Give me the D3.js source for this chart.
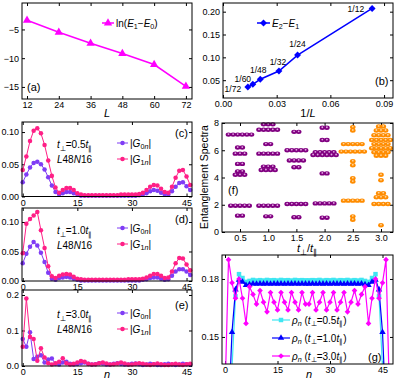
<!DOCTYPE html>
<html>
<head>
<meta charset="utf-8">
<script src="https://cdn.jsdelivr.net/npm/d3@7"></script>
<style>
  body { margin: 0; background: #fff; }
</style>
</head>
<body>
<script>
// (a) ln of the lowest gap vs chain length
var chainL = [12, 24, 36, 48, 60, 72];
var lnGap10 = [-3.4, -5.5, -7.4, -9.2, -11.1, -14.9];

// (b) second gap vs 1/L
var invL = [1/12, 1/24, 1/32, 1/48, 1/60, 1/72];
var invLNames = ["1/12", "1/24", "1/32", "1/48", "1/60", "1/72"];
var gap21 = [0.207, 0.105, 0.070, 0.052, 0.041, 0.035];

// (c)-(e) |G0n| and |G1n|, n = 0..46
var g0c = [0.022, 0.034, 0.045, 0.052, 0.054, 0.050, 0.042, 0.030, 0.017, 0.007,
           0.003, 0.005, 0.007, 0.007, 0.005, 0.003, 0.001, 0.001, 0.001, 0.001,
           0.001, 0.001, 0.001, 0.001, 0.001, 0.001, 0.001, 0.001, 0.001, 0.001,
           0.001, 0.001, 0.002, 0.003, 0.005, 0.008, 0.010, 0.009, 0.006, 0.003,
           0.003, 0.008, 0.015, 0.021, 0.022, 0.016, 0.010];
var g1c = [0.041, 0.062, 0.086, 0.102, 0.106, 0.098, 0.080, 0.056, 0.032, 0.014,
           0.006, 0.010, 0.013, 0.013, 0.010, 0.005, 0.003, 0.002, 0.002, 0.002,
           0.002, 0.002, 0.002, 0.002, 0.002, 0.002, 0.002, 0.003, 0.003, 0.003,
           0.003, 0.003, 0.004, 0.006, 0.010, 0.015, 0.018, 0.017, 0.012, 0.007,
           0.006, 0.015, 0.029, 0.040, 0.041, 0.031, 0.018];
var g0d = [0.030, 0.046, 0.058, 0.066, 0.060, 0.048, 0.032, 0.014, 0.004, 0.002,
           0.005, 0.006, 0.007, 0.006, 0.004, 0.002, 0.001, 0.001, 0.001, 0.001,
           0.001, 0.001, 0.001, 0.001, 0.001, 0.001, 0.001, 0.001, 0.001, 0.001,
           0.001, 0.001, 0.001, 0.002, 0.003, 0.005, 0.006, 0.006, 0.004, 0.002,
           0.003, 0.009, 0.016, 0.020, 0.020, 0.016, 0.010];
var g1d = [0.047, 0.097, 0.105, 0.111, 0.117, 0.086, 0.056, 0.025, 0.008, 0.005,
           0.009, 0.011, 0.012, 0.011, 0.007, 0.004, 0.003, 0.002, 0.002, 0.002,
           0.002, 0.002, 0.002, 0.002, 0.002, 0.002, 0.002, 0.002, 0.002, 0.003,
           0.003, 0.003, 0.003, 0.004, 0.006, 0.009, 0.012, 0.012, 0.009, 0.005,
           0.006, 0.016, 0.030, 0.039, 0.038, 0.028, 0.018];
var g0e = [0.076, 0.054, 0.095, 0.020, 0.026, 0.030, 0.010, 0.018, 0.021, 0.006,
           0.004, 0.010, 0.012, 0.006, 0.004, 0.006, 0.008, 0.010, 0.006, 0.004,
           0.005, 0.008, 0.007, 0.004, 0.004, 0.006, 0.008, 0.006, 0.004, 0.004,
           0.006, 0.007, 0.005, 0.003, 0.004, 0.006, 0.005, 0.003, 0.003, 0.005,
           0.006, 0.004, 0.003, 0.004, 0.006, 0.005, 0.004];
var g1e = [0.054, 0.190, 0.082, 0.076, 0.015, 0.050, 0.024, 0.008, 0.004, 0.008,
           0.012, 0.022, 0.008, 0.004, 0.006, 0.010, 0.014, 0.012, 0.006, 0.004,
           0.005, 0.008, 0.010, 0.007, 0.004, 0.005, 0.007, 0.010, 0.007, 0.004,
           0.004, 0.006, 0.008, 0.006, 0.004, 0.003, 0.005, 0.007, 0.005, 0.003,
           0.003, 0.005, 0.006, 0.004, 0.003, 0.005, 0.006];

// (f) entanglement spectra: [level, degeneracy] per t_perp/t_par
var tRatio = [0.5, 1.0, 1.5, 2.0, 2.5, 3.0];
var esPhase = ["topo", "topo", "topo", "topo", "trivial", "trivial"];
var esLevels = [
  [[7.15, 6], [6.2, 2], [5.75, 3], [5.0, 2], [4.45, 2], [4.2, 3], [1.93, 5], [1.2, 2]],
  [[7.9, 3], [7.5, 5], [6.45, 2], [5.75, 5], [4.8, 3], [4.55, 4], [1.93, 5], [1.15, 2]],
  [[7.35, 2], [6.0, 5], [5.25, 4], [4.75, 2], [2.05, 5], [1.08, 2]],
  [[7.65, 2], [6.75, 2], [5.85, 5], [5.65, 6], [4.3, 2], [2.1, 5], [1.05, 2]],
  [[7.7, 1], [7.45, 1], [6.45, 5], [5.9, 6], [5.2, 1], [4.9, 1], [3.95, 1], [3.7, 1], [2.3, 5], [1.15, 1], [0.9, 1]],
  [[7.75, 2], [7.45, 3], [7.1, 4], [6.75, 5], [6.45, 4], [6.15, 5], [5.85, 4], [5.6, 3], [4.2, 1], [3.8, 1], [2.85, 2], [2.55, 3], [2.05, 4], [0.5, 1]]
];

// (g) density rho_n, n = 0..47
var rhoT05 = [0.100, 0.120, 0.134, 0.171, 0.1825, 0.1805, 0.1785, 0.1790, 0.1795, 0.1792,
              0.1794, 0.1792, 0.1795, 0.1793, 0.1794, 0.1792, 0.1795, 0.1793, 0.1794, 0.1792,
              0.1795, 0.1793, 0.1794, 0.1793, 0.1793, 0.1794, 0.1793, 0.1795, 0.1792, 0.1794,
              0.1793, 0.1795, 0.1792, 0.1794, 0.1793, 0.1795, 0.1792, 0.1794, 0.1792, 0.1795,
              0.1790, 0.1785, 0.1805, 0.1825, 0.171, 0.134, 0.120, 0.100];
var rhoT10 = [0.090, 0.110, 0.1525, 0.1745, 0.1795, 0.1785, 0.1768, 0.1772, 0.1776, 0.1774,
              0.1776, 0.1775, 0.1776, 0.1774, 0.1776, 0.1775, 0.1776, 0.1774, 0.1776, 0.1775,
              0.1776, 0.1774, 0.1776, 0.1775, 0.1775, 0.1776, 0.1774, 0.1776, 0.1775, 0.1776,
              0.1774, 0.1776, 0.1775, 0.1776, 0.1774, 0.1776, 0.1775, 0.1776, 0.1774, 0.1776,
              0.1772, 0.1768, 0.1785, 0.1795, 0.1745, 0.1525, 0.110, 0.090];
var rhoT30 = [0.120, 0.190, 0.178, 0.170, 0.180, 0.170, 0.157, 0.176, 0.172, 0.167,
              0.174, 0.168, 0.163, 0.173, 0.168, 0.164, 0.173, 0.168, 0.164, 0.173,
              0.168, 0.164, 0.173, 0.167, 0.167, 0.173, 0.164, 0.168, 0.173, 0.164,
              0.168, 0.173, 0.164, 0.168, 0.173, 0.163, 0.168, 0.174, 0.167, 0.172,
              0.176, 0.157, 0.170, 0.180, 0.170, 0.178, 0.190, 0.120];

var FONT = "Liberation Sans, Arial, sans-serif";
var PURPLE = "#7f3cf5", PINK = "#ff1f86", MAG = "#ff00ff", BLUE = "#0000ff", CYAN = "#3fe6f2";

var svg = d3.select("body").append("svg").attr("width", 395).attr("height", 381);
var clipN = 0;

// box = [left, right, top, bottom]
function panel(box, xd, yd, xt, yt, xf, yf, pad) {
  var x = d3.scaleLinear().domain(xd).range([box[0], box[1]]);
  var y = d3.scaleLinear().domain(yd).range([box[3], box[2]]);
  var g = svg.append("g");
  var cid = "clip" + (clipN++);
  svg.append("clipPath").attr("id", cid).append("rect")
    .attr("x", box[0] - pad).attr("y", box[2] - pad)
    .attr("width", box[1] - box[0] + 2 * pad).attr("height", box[3] - box[2] + 2 * pad);
  var none = function() { return ""; };
  function tidy(s) {
    s.select(".domain").remove();
    s.attr("font-family", FONT).attr("font-size", 9);
  }
  g.append("g").attr("transform", "translate(0," + box[3] + ")")
    .call(d3.axisBottom(x).tickValues(xt).tickFormat(xf).tickSizeInner(-3).tickSizeOuter(0).tickPadding(3)).call(tidy);
  g.append("g").attr("transform", "translate(0," + box[2] + ")")
    .call(d3.axisTop(x).tickValues(xt).tickFormat(none).tickSizeInner(-3).tickSizeOuter(0)).call(tidy);
  g.append("g").attr("transform", "translate(" + box[0] + ",0)")
    .call(d3.axisLeft(y).tickValues(yt).tickFormat(yf).tickSizeInner(-3).tickSizeOuter(0).tickPadding(3)).call(tidy);
  g.append("g").attr("transform", "translate(" + box[1] + ",0)")
    .call(d3.axisRight(y).tickValues(yt).tickFormat(none).tickSizeInner(-3).tickSizeOuter(0)).call(tidy);
  var plot = g.append("g").attr("clip-path", "url(#" + cid + ")");
  g.append("rect").attr("x", box[0]).attr("y", box[2])
    .attr("width", box[1] - box[0]).attr("height", box[3] - box[2])
    .attr("fill", "none").attr("stroke", "#000").attr("stroke-width", 1);
  return { x: x, y: y, g: g, plot: plot };
}

// text with italic / subscript pieces
function rich(g, x, y, parts, size, anchor) {
  var t = g.append("text").attr("x", x).attr("y", y)
    .attr("font-size", size).attr("font-family", FONT);
  if (anchor) t.attr("text-anchor", anchor);
  var shift = 0;
  parts.forEach(function(p) {
    var st = p[1] || "";
    var sub = st.indexOf("s") >= 0;
    var want = sub ? size * 0.28 : 0;
    var ts = t.append("tspan").text(p[0]);
    if (want !== shift) ts.attr("dy", want - shift);
    shift = want;
    if (st.indexOf("i") >= 0) ts.attr("font-style", "italic");
    if (sub) ts.attr("font-size", size * 0.72);
  });
  return t;
}

function marker(sel, sym, size, rot, color) {
  sel.attr("d", d3.symbol().type(sym).size(size)).attr("fill", color);
  return sel;
}

function series(p, xs, ys, color, sym, size, rot, width) {
  var pts = ys.map(function(v, i) { return [p.x(xs ? xs[i] : i), p.y(v)]; });
  p.plot.append("path").attr("d", d3.line()(pts))
    .attr("fill", "none").attr("stroke", color).attr("stroke-width", width);
  p.plot.selectAll(null).data(pts).enter().append("path")
    .attr("transform", function(d) { return "translate(" + d + ")" + (rot ? " rotate(45)" : ""); })
    .call(marker, sym, size, rot, color);
}

function legendItem(g, x0, x1, y, color, sym, size, rot, width, parts, fs) {
  g.append("line").attr("x1", x0).attr("x2", x1).attr("y1", y).attr("y2", y)
    .attr("stroke", color).attr("stroke-width", width);
  g.append("path").attr("transform", "translate(" + ((x0 + x1) / 2) + "," + y + ")" + (rot ? " rotate(45)" : ""))
    .call(marker, sym, size, rot, color);
  rich(g, x1 + 2, y + 3.5, parts, fs);
}

function tag(g, x, y, s) {
  g.append("text").attr("x", x).attr("y", y).attr("font-family", FONT)
    .attr("font-size", 11).text(s);
}

function tperp(v) {
  return [["t", "i"], ["\u22a5", "s"], ["=" + v], ["t", "i"], ["\u2225", "s"]];
}
var lnn = [["L", "i"], ["48"], ["N", "i"], ["16"]];

// ---------- (a)
var pa = panel([22, 192, 3, 99], [10.1, 74.3], [-17.1, -0.4], chainL, [-5, -10, -15],
  d3.format("d"), d3.format("d"), 5);
series(pa, chainL, lnGap10, MAG, d3.symbolTriangle, 30, false, 1.5);
legendItem(pa.g, 102, 114, 23, MAG, d3.symbolTriangle, 30, false, 1.5,
  [["ln("], ["E", "i"], ["1", "s"], ["\u2212"], ["E", "i"], ["0", "s"], [")"]], 10);
tag(pa.g, 27, 91, "(a)");
rich(svg, 107, 117, [["L", "i"]], 11, "middle");

// ---------- (b)
var pb = panel([223, 393, 3, 98], [0, 0.095], [0.011, 0.219], [0, 0.03, 0.06, 0.09], [0.05, 0.10, 0.15, 0.20],
  d3.format(".2f"), d3.format(".2f"), 5);
series(pb, invL, gap21, BLUE, d3.symbolSquare, 24, true, 1.5);
legendItem(pb.g, 257, 270, 23, BLUE, d3.symbolSquare, 24, true, 1.5,
  [["E", "i"], ["2", "s"], ["\u2212"], ["E", "i"], ["1", "s"]], 10);
var nameNudge = [[-8, 3.5, "end"], [0, -8, "middle"], [-1, -6.5, "middle"], [-2, -6.5, "middle"], [-10, -2.6, "middle"], [-15, 4.7, "middle"]];
pb.g.selectAll(null).data(invLNames).enter().append("text")
  .attr("x", function(d, i) { return pb.x(invL[i]) + nameNudge[i][0]; })
  .attr("y", function(d, i) { return pb.y(gap21[i]) + nameNudge[i][1]; })
  .attr("text-anchor", function(d, i) { return nameNudge[i][2]; })
  .attr("font-family", FONT).attr("font-size", 8.5).text(function(d) { return d; });
tag(pb.g, 375, 85, "(b)");
rich(svg, 308, 117, [["1/"], ["L", "i"]], 11, "middle");

// ---------- (c)-(e)
var greens = [
  { box: [22, 192, 122, 196.5], yd: [0, 0.1156], yt: [0, 0.05, 0.10], yf: d3.format(".2f"), g0: g0c, g1: g1c, t: "0.5", tg: "(c)", ty: 137, txt: 148, ly: 143 },
  { box: [22, 192, 208, 281], yd: [0, 0.1237], yt: [0, 0.05, 0.10], yf: d3.format(".2f"), g0: g0d, g1: g1d, t: "1.0", tg: "(d)", ty: 223, txt: 234, ly: 228 },
  { box: [22, 192, 290, 366], yd: [0, 0.214], yt: [0, 0.1, 0.2], yf: d3.format(".1f"), g0: g0e, g1: g1e, t: "3.0", tg: "(e)", ty: 309, txt: 318, ly: 313 }
];
greens.forEach(function(o) {
  var p = panel(o.box, [-0.2, 46.5], o.yd, [0, 15, 30, 45], o.yt, d3.format("d"), o.yf, 4);
  series(p, null, o.g0, PURPLE, d3.symbolCircle, 16, false, 1);
  series(p, null, o.g1, PINK, d3.symbolCircle, 16, false, 1);
  rich(p.g, 57, o.txt, tperp(o.t), 10);
  rich(p.g, 57, o.txt + 14.5, lnn, 10);
  legendItem(p.g, 117, 128, o.ly, PURPLE, d3.symbolCircle, 16, false, 1,
    [["|"], ["G", "i"], ["0", "s"], ["n", "si"], ["|"]], 10);
  legendItem(p.g, 117, 128, o.ly + 16, PINK, d3.symbolCircle, 16, false, 1,
    [["|"], ["G", "i"], ["1", "s"], ["n", "si"], ["|"]], 10);
  tag(p.g, 175, o.ty, o.tg);
});
rich(svg, 107, 377.5, [["n", "i"]], 11, "middle");

// ---------- (f)
var pf = panel([222, 393, 123, 232], [0.181, 3.213], [0, 8], tRatio, [0, 2, 4, 6, 8],
  d3.format(".1f"), d3.format("d"), 4);
var dots = [];
esLevels.forEach(function(levels, i) {
  levels.forEach(function(lv) {
    for (var j = 0; j < lv[1]; j++) {
      dots.push({ t: tRatio[i], e: lv[0], off: (j - (lv[1] - 1) / 2) * 4.6, phase: esPhase[i] });
    }
  });
});
var dg = pf.plot.selectAll(null).data(dots).enter().append("g")
  .attr("transform", function(d) { return "translate(" + (pf.x(d.t) + d.off) + "," + pf.y(d.e) + ")"; });
dg.append("ellipse").attr("rx", 2.8).attr("ry", 2.2)
  .attr("fill", function(d) { return d.phase === "topo" ? "#800080" : "#ff8c00"; });
dg.append("circle").attr("r", 0.9).attr("cy", -0.5)
  .attr("fill", function(d) { return d.phase === "topo" ? "#e2a6e2" : "#ffd49a"; });
tag(pf.g, 228, 194, "(f)");
svg.append("text").attr("transform", "translate(208,177) rotate(-90)")
  .attr("text-anchor", "middle").attr("font-family", FONT).attr("font-size", 10.5)
  .text("Entanglement Spectra");
rich(svg, 307, 252, [["t", "i"], ["\u22a5", "s"], ["/"], ["t", "i"], ["\u2225", "s"]], 11, "middle");

// ---------- (g)
var pg = panel([222, 393, 255, 364], [-0.86, 48], [0.136, 0.1924], [0, 15, 30, 45], [0.15, 0.18],
  d3.format("d"), d3.format(".2f"), 0);
series(pg, null, rhoT05, CYAN, d3.symbolSquare, 20, false, 1.2);
series(pg, null, rhoT10, BLUE, d3.symbolTriangle, 18, false, 1.2);
series(pg, null, rhoT30, MAG, d3.symbolSquare, 16, true, 1.2);
function rhoText(v) {
  return [["\u03c1", "i"], ["n", "si"], [" ("], ["t", "i"], ["\u22a5", "s"], ["=" + v], ["t", "i"], ["\u2225", "s"], [")"]];
}
legendItem(pg.g, 272, 290, 320, CYAN, d3.symbolSquare, 20, false, 1.2, rhoText("0.5"), 10);
legendItem(pg.g, 272, 290, 338, BLUE, d3.symbolTriangle, 18, false, 1.2, rhoText("1.0"), 10);
legendItem(pg.g, 272, 290, 356, MAG, d3.symbolSquare, 16, true, 1.2, rhoText("3.0"), 10);
tag(pg.g, 368, 361, "(g)");
rich(svg, 309, 377.5, [["n", "i"]], 11, "middle");
</script>
</body>
</html>
